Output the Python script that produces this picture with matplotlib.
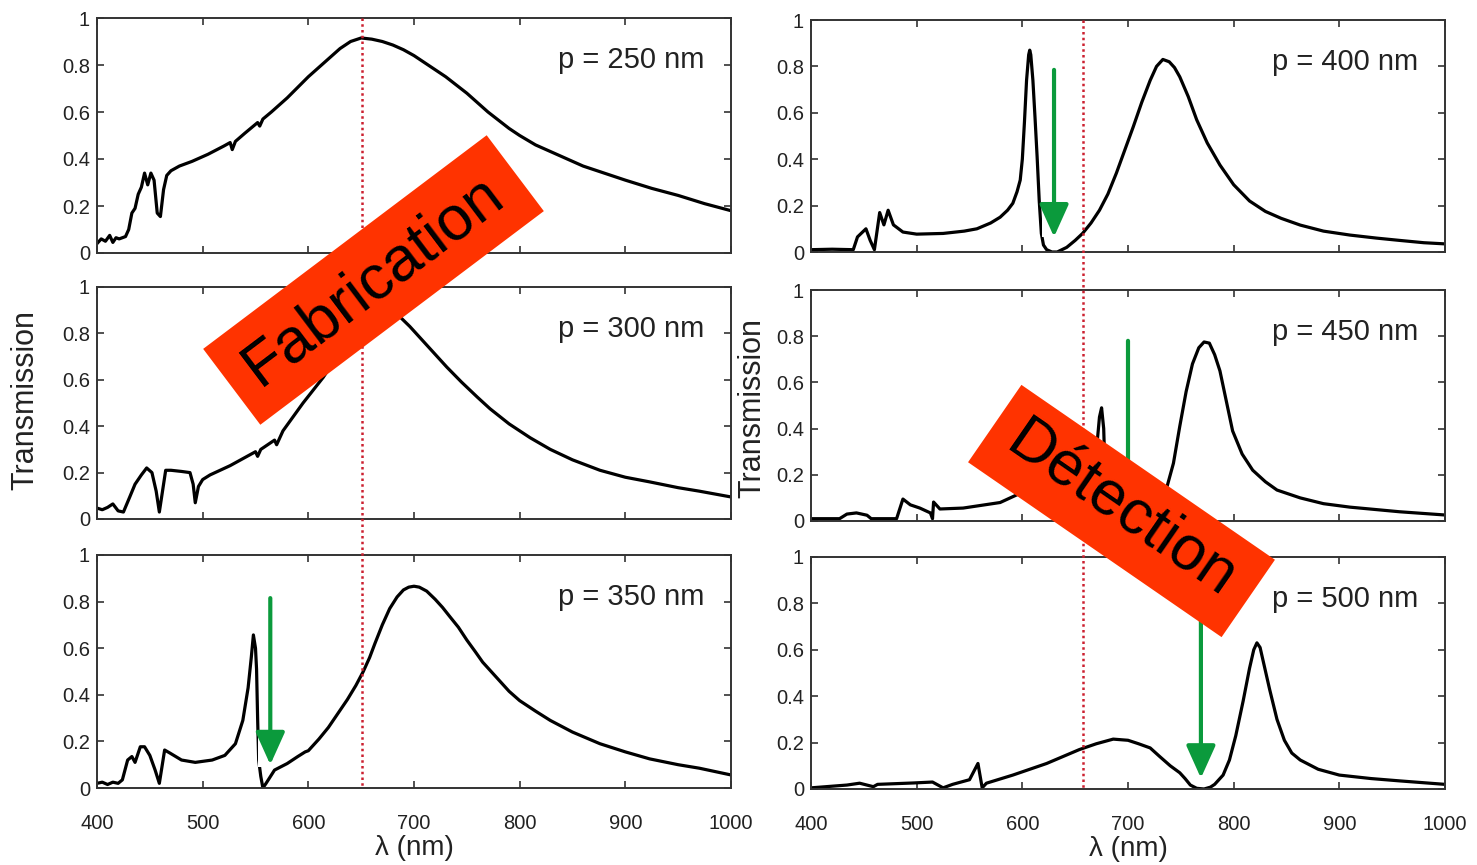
import numpy as np
import matplotlib
matplotlib.use("Agg")
import matplotlib.pyplot as plt
from matplotlib.lines import Line2D
from matplotlib.patches import Rectangle, FancyArrowPatch
from matplotlib.transforms import blended_transform_factory

plt.rcParams['font.family'] = ['Liberation Sans', 'DejaVu Sans']

# ---- data (wavelength nm, transmission) ----
lam_250 = [400, 404, 408, 412, 415, 418, 421, 424, 427, 430, 433, 436, 439, 442, 445,
           448, 451, 454, 457, 460, 463, 466, 470, 478, 490, 505, 520, 526, 528, 531,
           540, 552, 554, 557, 565, 580, 590, 600, 610, 620, 630, 640, 650, 660, 670,
           680, 690, 700, 710, 720, 730, 740, 750, 760, 770, 780, 790, 800, 815, 830,
           845, 860, 880, 900, 925, 950, 975, 1000]
t_250 = [0.04, 0.06, 0.05, 0.075, 0.045, 0.065, 0.06, 0.065, 0.07, 0.10, 0.17, 0.19,
         0.25, 0.28, 0.34, 0.29, 0.34, 0.31, 0.17, 0.155, 0.27, 0.33, 0.35, 0.37, 0.39,
         0.42, 0.455, 0.47, 0.44, 0.475, 0.51, 0.555, 0.54, 0.57, 0.60, 0.66, 0.705,
         0.75, 0.79, 0.83, 0.87, 0.90, 0.915, 0.91, 0.9, 0.885, 0.865, 0.84, 0.81, 0.78,
         0.75, 0.715, 0.68, 0.64, 0.60, 0.565, 0.53, 0.50, 0.46, 0.43, 0.40, 0.37, 0.34,
         0.31, 0.275, 0.245, 0.21, 0.18]

lam_300 = [400, 405, 410, 415, 420, 425, 431, 436, 442, 447, 452, 456, 459, 462, 465,
           470, 480, 488, 491, 493, 496, 500, 507, 526, 550, 552, 555, 568, 570, 573,
           576, 595, 614, 630, 645, 655, 665, 672, 680, 687, 696, 710, 720, 731, 745,
           760, 772, 790, 810, 829, 850, 876, 900, 923, 950, 970, 1000]
t_300 = [0.047, 0.04, 0.05, 0.065, 0.035, 0.03, 0.095, 0.15, 0.19, 0.22, 0.2, 0.12,
         0.03, 0.12, 0.21, 0.21, 0.205, 0.2, 0.15, 0.07, 0.14, 0.17, 0.19, 0.23, 0.29,
         0.27, 0.3, 0.34, 0.32, 0.35, 0.38, 0.5, 0.61, 0.72, 0.81, 0.86, 0.89, 0.9, 0.89,
         0.87, 0.83, 0.76, 0.71, 0.655, 0.59, 0.525, 0.475, 0.41, 0.35, 0.30, 0.255,
         0.21, 0.18, 0.16, 0.135, 0.12, 0.095]

lam_350 = [400, 405, 410, 415, 420, 424, 429, 433, 436, 441, 445, 450, 455, 459, 461,
           464, 469, 480, 493, 509, 521, 531, 538, 543, 546, 548, 550, 551, 552, 553,
           555, 557, 560, 568, 580, 590, 597, 600, 610, 619, 628, 637, 645, 652, 658,
           663, 670, 677, 684, 690, 695, 700, 705, 712, 720, 727, 734, 742, 750, 758,
           765, 773, 781, 790, 800, 815, 829, 850, 876, 900, 923, 950, 970, 1000]
t_350 = [0.02, 0.025, 0.015, 0.025, 0.02, 0.035, 0.12, 0.135, 0.11, 0.177, 0.177, 0.14,
         0.077, 0.02, 0.077, 0.163, 0.15, 0.12, 0.11, 0.12, 0.14, 0.19, 0.29, 0.43, 0.56,
         0.657, 0.6, 0.51, 0.3, 0.12, 0.05, 0.0, 0.02, 0.077, 0.105, 0.135, 0.155, 0.16,
         0.21, 0.26, 0.32, 0.38, 0.44, 0.50, 0.56, 0.62, 0.70, 0.77, 0.82, 0.85, 0.862,
         0.866, 0.862, 0.845, 0.81, 0.775, 0.735, 0.69, 0.635, 0.585, 0.54, 0.50, 0.46,
         0.415, 0.375, 0.33, 0.29, 0.24, 0.19, 0.155, 0.125, 0.10, 0.085, 0.056]

lam_400 = [400, 420, 440, 444, 452, 456, 460, 465, 469, 473, 478, 487, 500, 525, 545,
           557, 570, 579, 586, 591, 595, 598, 600, 602, 604, 606, 607, 608, 610, 612,
           614, 616, 618, 620, 623, 628, 633, 642, 650, 657, 665, 673, 681, 689, 697,
           705, 713, 721, 727, 733, 739, 744, 749, 757, 765, 775, 787, 800, 815, 830,
           845, 863, 885, 910, 935, 957, 980, 1000]
t_400 = [0.01, 0.012, 0.01, 0.065, 0.1, 0.05, 0.01, 0.17, 0.117, 0.18, 0.117, 0.086,
         0.077, 0.08, 0.09, 0.10, 0.125, 0.15, 0.18, 0.21, 0.26, 0.31, 0.40, 0.56, 0.74,
         0.85, 0.87, 0.85, 0.74, 0.58, 0.41, 0.22, 0.08, 0.03, 0.01, 0.0, 0.0, 0.02,
         0.05, 0.08, 0.125, 0.18, 0.25, 0.34, 0.44, 0.54, 0.645, 0.74, 0.80, 0.83, 0.82,
         0.795, 0.755, 0.67, 0.57, 0.47, 0.375, 0.29, 0.22, 0.175, 0.145, 0.116, 0.09,
         0.073, 0.06, 0.05, 0.04, 0.035]

lam_450 = [400, 427, 434, 443, 453, 457, 481, 487, 494, 503, 513, 515, 516, 522, 544,
           579, 598, 620, 650, 665, 670, 673, 675, 677, 679, 682, 690, 700, 715, 730,
           737, 743, 749, 755, 761, 767, 772, 777, 782, 787, 793, 799, 808, 818, 830,
           841, 863, 885, 910, 957, 1000]
t_450 = [0.01, 0.01, 0.03, 0.035, 0.025, 0.01, 0.01, 0.095, 0.07, 0.056, 0.035, 0.01,
         0.082, 0.052, 0.056, 0.08, 0.12, 0.14, 0.17, 0.22, 0.3, 0.45, 0.49, 0.4, 0.1,
         0.02, 0.0, 0.01, 0.04, 0.1, 0.15, 0.25, 0.41, 0.56, 0.68, 0.75, 0.775, 0.77,
         0.72, 0.65, 0.52, 0.39, 0.29, 0.22, 0.17, 0.134, 0.10, 0.075, 0.06, 0.04, 0.026]

lam_500 = [400, 434, 446, 459, 463, 497, 515, 525, 534, 550, 558, 562, 566, 591, 623,
           654, 670, 686, 700, 710, 721, 730, 740, 749, 754, 759, 765, 772, 778, 782,
           790, 796, 802, 809, 815, 819, 822, 825, 829, 834, 841, 848, 855, 863, 880,
           900, 930, 957, 1000]
t_500 = [0.005, 0.017, 0.025, 0.01, 0.02, 0.026, 0.03, 0.005, 0.02, 0.04, 0.11, 0.005,
         0.025, 0.06, 0.11, 0.17, 0.195, 0.215, 0.21, 0.195, 0.177, 0.14, 0.10, 0.07,
         0.045, 0.017, 0.003, 0.0, 0.008, 0.02, 0.06, 0.125, 0.23, 0.38, 0.52, 0.60,
         0.63, 0.61, 0.53, 0.43, 0.30, 0.21, 0.155, 0.125, 0.085, 0.06, 0.045, 0.035,
         0.02]

panels = [
    ("p = 250 nm", lam_250, t_250),
    ("p = 300 nm", lam_300, t_300),
    ("p = 350 nm", lam_350, t_350),
    ("p = 400 nm", lam_400, t_400),
    ("p = 450 nm", lam_450, t_450),
    ("p = 500 nm", lam_500, t_500),
]

xticks = [400, 500, 600, 700, 800, 900, 1000]
yticks = [0, 0.2, 0.4, 0.6, 0.8, 1]
ytick_labels = ['0', '0.2', '0.4', '0.6', '0.8', '1']

# resonance wavelength marks (red dotted) and green arrows (column, row, lambda, from, to)
fab_line = 651
det_line = 657
arrows = [(0, 2, 564, 0.815, 0.10),
          (1, 0, 630, 0.785, 0.065),
          (1, 1, 700, 0.78, 0.0),
          (1, 2, 769, 0.80, 0.047)]

W, H = 1477, 865
fig = plt.figure(figsize=(W / 100, H / 100), dpi=100)

col_left = [97, 811]
col_w = 634
rows_px = [[(18, 253), (287, 519), (555, 788)],
           [(20, 252), (290, 521), (557, 789)]]

axes = [[None] * 3 for _ in range(2)]
for c in range(2):
    for r in range(3):
        top, bot = rows_px[c][r]
        ax = fig.add_axes([col_left[c] / W, 1 - bot / H, col_w / W, (bot - top) / H])
        label, lam, t = panels[c * 3 + r]
        ax.plot(lam, t, color='black', lw=2.3, solid_joinstyle='round')
        ax.set_xlim(400, 1000)
        ax.set_ylim(0, 1)
        ax.set_xticks(xticks)
        ax.set_yticks(yticks)
        ax.set_yticklabels(ytick_labels)
        ax.tick_params(direction='in', length=5, width=1.2, top=True, right=True,
                       labelsize=14.5, colors='#333333', labelcolor='#222222')
        ax.tick_params(axis='y', pad=5)
        ax.tick_params(axis='x', pad=19)
        if r < 2:
            ax.set_xticklabels([])
        else:
            ax.set_xlabel("λ (nm)", fontsize=20, color='#222222', labelpad=1)
        for s in ax.spines.values():
            s.set_color('#333333')
            s.set_linewidth(1.4)
        ax.text(0.958, 0.82, label, transform=ax.transAxes, ha='right', va='center',
                fontsize=21, color='#222222')
        axes[c][r] = ax

# white patch behind the arrow heads that hides the curve (as in the original)
for c, r, x0, x1, y0, y1 in [(0, 2, 552.5, 563, 0.09, 0.22), (1, 0, 618.5, 628, 0.065, 0.18)]:
    axes[c][r].add_patch(Rectangle((x0, y0), x1 - x0, y1 - y0, facecolor='white',
                                   edgecolor='none', zorder=3))

for c, r, lam0, y0, y1 in arrows:
    ax = axes[c][r]
    arr = FancyArrowPatch((lam0, y0), (lam0, y1), arrowstyle='-|>,head_length=1.0,head_width=0.45',
                          mutation_scale=20, color='#0b9a3c', lw=3, shrinkA=0, shrinkB=0,
                          zorder=4)
    ax.add_patch(arr)

fig.text(25 / W, 1 - 400 / H, "Transmission", rotation=90, ha='center', va='center',
         fontsize=22, color='#222222')
fig.text(752 / W, 1 - 408 / H, "Transmission", rotation=90, ha='center', va='center',
         fontsize=22, color='#222222')

# red dotted lines spanning each column
for c, lam0 in [(0, fab_line), (1, det_line)]:
    top = rows_px[c][0][0]
    bot = rows_px[c][2][1]
    tr = blended_transform_factory(axes[c][2].transData, fig.transFigure)
    fig.add_artist(Line2D([lam0, lam0], [1 - top / H, 1 - bot / H], transform=tr,
                          color='#cc2030', lw=1.8, linestyle=(0, (1, 1.3)), zorder=3))

# banners
for (cx, cy, bw, bh, ang, txt) in [(373.5, 280, 355, 95, 37, "Fabrication"),
                                   (1121.5, 511, 308, 94, -34.6, "Détection")]:
    cxi, cyi = cx / 100, (H - cy) / 100
    rect = Rectangle((cxi - bw / 200, cyi - bh / 200), bw / 100, bh / 100, angle=ang,
                     rotation_point='center', transform=fig.dpi_scale_trans,
                     facecolor='#ff3300', edgecolor='none', zorder=5)
    fig.add_artist(rect)
    fig.text(cxi, cyi, txt, transform=fig.dpi_scale_trans, rotation=ang,
             rotation_mode='anchor', ha='center', va='center', fontsize=45,
             color='black', zorder=6)

fig.savefig("out.png", dpi=100)
